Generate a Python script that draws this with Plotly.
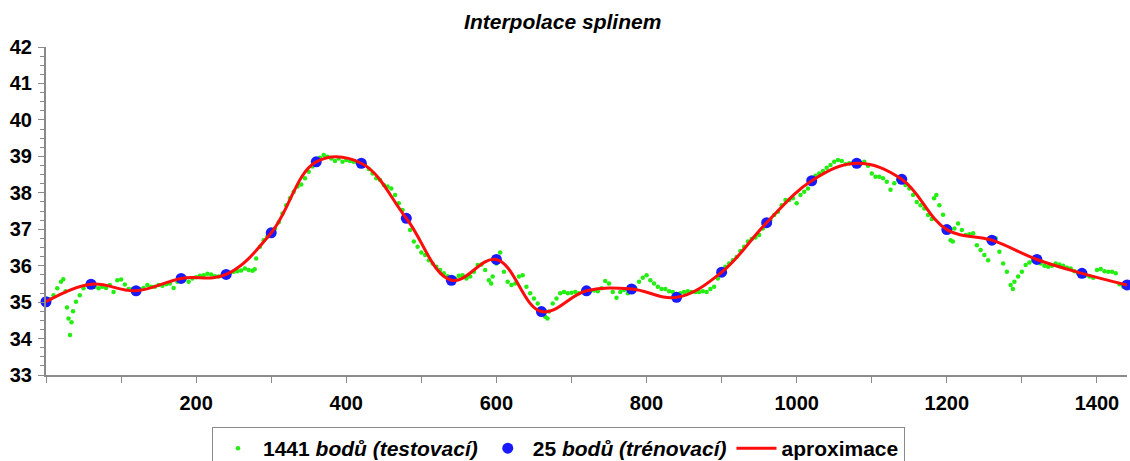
import plotly.graph_objects as go

# Test set: measured series (sampled positions and values)
test_x = [0, 5, 10, 15, 20, 23, 26, 28, 30, 32, 34, 36, 40, 45, 50, 55, 60, 65, 70, 75,
          80, 85, 90, 95, 100, 105, 110, 115, 120, 125, 130, 135, 140, 145, 150, 155, 160,
          165, 170, 175, 180, 185, 190, 195, 200, 205, 210, 215, 220, 225, 230, 235, 240,
          245, 250, 255, 260, 265, 270, 275, 278, 280, 285, 290, 295, 300, 305, 310, 315,
          320, 325, 330, 335, 340, 345, 350, 355, 360, 365, 370, 375, 380, 385, 390, 395,
          400, 405, 410, 415, 420, 425, 430, 435, 440, 445, 450, 455, 460, 465, 470, 475,
          480, 485, 490, 495, 500, 505, 510, 515, 520, 525, 530, 535, 540, 545, 550, 555,
          560, 565, 570, 575, 580, 585, 590, 593, 595, 600, 605, 610, 615, 620, 625, 630,
          635, 640, 645, 650, 655, 660, 665, 668, 670, 675, 680, 685, 690, 695, 700, 705,
          710, 715, 720, 725, 730, 735, 740, 745, 750, 755, 760, 765, 770, 775, 780, 785,
          790, 795, 800, 805, 810, 815, 820, 825, 830, 835, 840, 845, 850, 855, 860, 865,
          870, 875, 880, 885, 890, 895, 900, 905, 910, 915, 920, 925, 930, 935, 940, 945,
          950, 955, 960, 965, 970, 975, 980, 985, 990, 995, 1000, 1005, 1010, 1015, 1020,
          1025, 1030, 1035, 1040, 1045, 1050, 1055, 1060, 1065, 1070, 1075, 1080, 1085,
          1090, 1095, 1100, 1105, 1110, 1115, 1120, 1125, 1130, 1135, 1140, 1145, 1150,
          1155, 1160, 1165, 1170, 1175, 1180, 1183, 1186, 1190, 1195, 1200, 1205, 1208,
          1210, 1215, 1220, 1225, 1230, 1235, 1240, 1245, 1250, 1255, 1260, 1265, 1270,
          1275, 1280, 1285, 1288, 1290, 1295, 1300, 1305, 1310, 1315, 1320, 1325, 1330,
          1335, 1340, 1345, 1350, 1355, 1360, 1365, 1370, 1375, 1380, 1385, 1390, 1395,
          1400, 1405, 1410, 1415, 1420, 1425, 1430, 1435, 1440]

test_y = [35.00, 35.08, 35.19, 35.38, 35.56, 35.63, 35.30, 34.85, 34.55, 34.10, 34.45, 34.75,
          35.01, 35.19, 35.38, 35.47, 35.50, 35.42, 35.38, 35.42, 35.39, 35.47, 35.28, 35.60,
          35.62, 35.48, 35.36, 35.36, 35.32, 35.36, 35.39, 35.47, 35.42, 35.42, 35.47, 35.45,
          35.49, 35.51, 35.39, 35.56, 35.65, 35.65, 35.56, 35.65, 35.68, 35.72, 35.74, 35.78,
          35.76, 35.71, 35.70, 35.74, 35.76, 35.79, 35.83, 35.85, 35.87, 35.92, 35.88, 35.86,
          35.90, 36.20, 36.52, 36.70, 36.80, 36.90, 37.02, 37.19, 37.43, 37.66, 37.85, 38.03,
          38.17, 38.23, 38.40, 38.58, 38.72, 38.85, 38.96, 39.04, 38.99, 38.94, 38.87, 38.94,
          38.85, 38.90, 38.87, 38.85, 38.83, 38.81, 38.76, 38.65, 38.53, 38.40, 38.35, 38.21,
          38.17, 38.12, 37.94, 37.71, 37.53, 37.30, 36.98, 36.66, 36.52, 36.36, 36.29, 36.15,
          36.06, 35.97, 35.88, 35.79, 35.71, 35.62, 35.65, 35.72, 35.74, 35.65, 35.70, 35.83,
          36.02, 36.03, 35.88, 35.60, 35.51, 35.70, 36.06, 36.36, 35.83, 35.56, 35.47, 35.51,
          35.70, 35.74, 35.42, 35.24, 35.10, 34.96, 34.78, 34.60, 34.55, 34.74, 34.96, 35.10,
          35.24, 35.28, 35.24, 35.26, 35.28, 35.24, 35.28, 35.31, 35.31, 35.32, 35.30, 35.38,
          35.58, 35.51, 35.28, 35.12, 35.28, 35.33, 35.24, 35.36, 35.39, 35.56, 35.67, 35.74,
          35.60, 35.51, 35.42, 35.36, 35.36, 35.30, 35.28, 35.22, 35.24, 35.28, 35.30, 35.28,
          35.28, 35.28, 35.30, 35.28, 35.36, 35.42, 35.65, 35.82, 35.97, 36.06, 36.15, 36.24,
          36.40, 36.52, 36.66, 36.73, 36.77, 36.84, 37.02, 37.18, 37.25, 37.39, 37.48, 37.66,
          37.80, 37.80, 37.85, 37.71, 37.94, 38.03, 38.12, 38.30, 38.47, 38.53, 38.60, 38.69,
          38.76, 38.85, 38.90, 38.87, 38.78, 38.81, 38.81, 38.81, 38.78, 38.85, 38.74, 38.53,
          38.44, 38.44, 38.40, 38.30, 38.08, 38.26, 38.35, 38.37, 38.21, 38.12, 37.94, 37.75,
          37.66, 37.57, 37.39, 37.28, 37.85, 37.94, 37.66, 37.40, 37.05, 36.70, 36.66, 37.02,
          37.16, 36.98, 36.84, 36.86, 36.89, 36.56, 36.43, 36.29, 36.15, 36.66, 36.75, 36.38,
          36.06, 35.83, 35.47, 35.36, 35.56, 35.70, 35.83, 36.02, 36.09, 36.15, 36.17, 36.06,
          36.00, 35.97, 36.00, 36.06, 36.03, 36.00, 35.94, 35.92, 35.85, 35.79, 35.79, 35.74,
          35.70, 35.67, 35.88, 35.91, 35.85, 35.83, 35.83, 35.79, 35.49, 35.42, 35.45]

# Training set: 25 knots every 60 samples
train_x = [0, 60, 120, 180, 240, 300, 360, 420, 480, 540, 600, 660, 720, 780, 840,
           900, 960, 1020, 1080, 1140, 1200, 1260, 1320, 1380, 1440]
train_y = [35.01, 35.49, 35.31, 35.65, 35.76, 36.90, 38.85, 38.81, 37.30, 35.60, 36.17,
           34.74, 35.31, 35.36, 35.13, 35.82, 37.18, 38.33, 38.81, 38.37, 36.99, 36.70,
           36.17, 35.79, 35.47]

x_tick_vals = [200, 400, 600, 800, 1000, 1200, 1400]
x_tick_text = ["200", "400", "600", "800", "1000", "1200", "1400"]
y_tick_vals = [33, 34, 35, 36, 37, 38, 39, 40, 41, 42]
y_tick_text = ["33", "34", "35", "36", "37", "38", "39", "40", "41", "42"]

names = ["<b>1441 <i>bodů (testovací)</i></b>",
         "<b>25 <i>bodů (trénovací)</i></b>",
         "<b>aproximace</b>"]

FONT = "Liberation Sans, Arial, sans-serif"
AXIS_GREY = "#8a8a8a"

fig = go.Figure()
fig.add_trace(go.Scatter(
    x=test_x, y=test_y, mode="markers", name=names[0],
    marker=dict(color="#22ee11", size=4.5, line=dict(width=0)),
    cliponaxis=False,
))
fig.add_trace(go.Scatter(
    x=train_x, y=train_y, mode="markers", name=names[1],
    marker=dict(color="#1a1aff", size=11, line=dict(width=0)),
    cliponaxis=False,
))
fig.add_trace(go.Scatter(
    x=train_x, y=train_y, mode="lines", name=names[2],
    line=dict(color="#ff0d0d", width=3, shape="spline", smoothing=1.1),
    cliponaxis=False,
))

axis_common = dict(
    showgrid=False, zeroline=False, showline=True,
    linecolor=AXIS_GREY, linewidth=2,
    ticks="outside", tickcolor=AXIS_GREY, tickwidth=1, ticklen=6,
    tickfont=dict(family=FONT, size=20, color="black", weight="bold"),
)

fig.update_layout(
    width=1130, height=461,
    margin=dict(l=46, r=3, t=47, b=86, autoexpand=False),
    plot_bgcolor="white", paper_bgcolor="white",
    title=dict(
        text="<b><i>Interpolace splinem</i></b>",
        x=0.498, xref="container", xanchor="center",
        y=1 - 22 / 461, yref="container", yanchor="middle",
        font=dict(family=FONT, size=21, color="black"),
    ),
    xaxis=dict(
        range=[0, 1440], tickvals=x_tick_vals, ticktext=x_tick_text,
        minor=dict(dtick=100, tick0=0, ticks="outside", ticklen=6,
                   tickcolor=AXIS_GREY, tickwidth=1),
        ticklabelstandoff=3,
        **axis_common,
    ),
    yaxis=dict(
        range=[33, 42], tickvals=y_tick_vals, ticktext=y_tick_text,
        minor=dict(dtick=0.25, tick0=33, ticks="outside", ticklen=4,
                   tickcolor=AXIS_GREY, tickwidth=1),
        ticklabelstandoff=2,
        **axis_common,
    ),
    legend=dict(
        orientation="h", x=(212 - 46) / 1081, xanchor="left",
        y=-(427 - 375) / 328, yanchor="top",
        bordercolor=AXIS_GREY, borderwidth=1, bgcolor="white",
        font=dict(family=FONT, size=21, color="black"),
        itemwidth=40, tracegroupgap=0,
    ),
    showlegend=True,
)

fig.write_html("out.html")
